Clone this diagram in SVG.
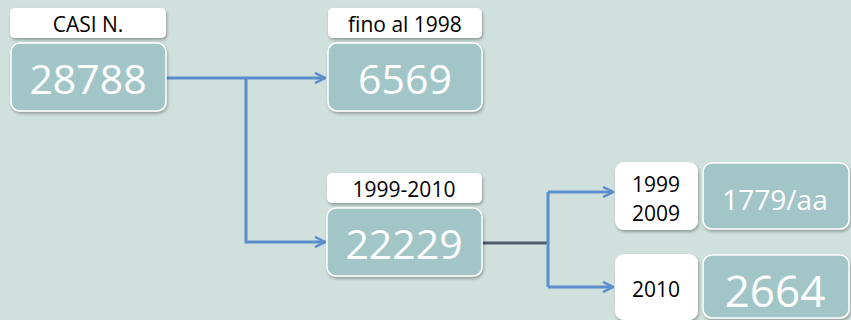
<svg xmlns="http://www.w3.org/2000/svg" width="851" height="320" viewBox="0 0 851 320">
<style>
.lbl{fill:#ffffff;}
.box{fill:#a2c5c7;stroke:#ffffff;stroke-width:1.5;}
.t{font-family:"Open Sans","Liberation Sans",sans-serif;text-anchor:middle;}
.big{fill:#ffffff;font-size:41px;}
.small{fill:#000000;font-size:21px;}
.con{fill:none;stroke:#5b8dcd;stroke-width:3;}
</style>
<defs>
<filter id="sh" x="-10%" y="-10%" width="130%" height="140%">
<feDropShadow dx="1" dy="2" stdDeviation="1.5" flood-color="#000" flood-opacity="0.3"/>
</filter>
<marker id="arr" viewBox="0 0 12 12" refX="11" refY="6" markerWidth="12" markerHeight="12" markerUnits="userSpaceOnUse" orient="auto">
<path d="M1,1 L11,6 L1,11" fill="none" stroke="#5b8dcd" stroke-width="2.5"/>
</marker>
</defs>
<rect width="851" height="320" fill="#d0e0dc"/>
<g id="connectors">
<path class="con" d="M166,78 H325" marker-end="url(#arr)"/>
<path class="con" d="M246,78 V242 H325" marker-end="url(#arr)"/>
<path d="M482,243 H548" fill="none" stroke="#505c66" stroke-width="3"/>
<path class="con" d="M548,192 V287"/>
<path class="con" d="M548,192 H613" marker-end="url(#arr)"/>
<path class="con" d="M548,287 H613" marker-end="url(#arr)"/>
</g>
<g id="casi">
<rect class="lbl" x="10" y="8" width="156" height="30" rx="5" filter="url(#sh)"/>
<text class="t small" x="88" y="32">CASI N.</text>
<rect class="box" x="11" y="43" width="155" height="68" rx="9" filter="url(#sh)"/>
<text class="t big" x="88" y="94">28788</text>
</g>
<g id="fino1998">
<rect class="lbl" x="328" y="8" width="154" height="30" rx="5" filter="url(#sh)"/>
<text class="t small" x="405" y="32">fino al 1998</text>
<rect class="box" x="328" y="43" width="154" height="68" rx="9" filter="url(#sh)"/>
<text class="t big" x="405" y="94">6569</text>
</g>
<g id="p1999_2010">
<rect class="lbl" x="327" y="173" width="155" height="30" rx="5" filter="url(#sh)"/>
<text class="t small" x="404" y="197">1999-2010</text>
<rect class="box" x="327" y="208" width="155" height="68" rx="9" filter="url(#sh)"/>
<text class="t big" x="404" y="259">22229</text>
</g>
<g id="p1999_2009">
<rect class="lbl" x="615" y="162" width="83" height="68" rx="9" filter="url(#sh)"/>
<text class="t small" x="656" y="192">1999</text>
<text class="t small" x="656" y="221">2009</text>
<rect class="box" x="703" y="163" width="146" height="66" rx="9" filter="url(#sh)"/>
<text class="t" x="775" y="210" fill="#ffffff" font-size="28">1779/aa</text>
</g>
<g id="p2010">
<rect class="lbl" x="615" y="254" width="83" height="66" rx="9" filter="url(#sh)"/>
<text class="t small" x="656" y="297">2010</text>
<rect class="box" x="703" y="255" width="146" height="63" rx="9" filter="url(#sh)"/>
<text class="t" x="775" y="307" fill="#ffffff" font-size="44">2664</text>
</g>
</svg>
